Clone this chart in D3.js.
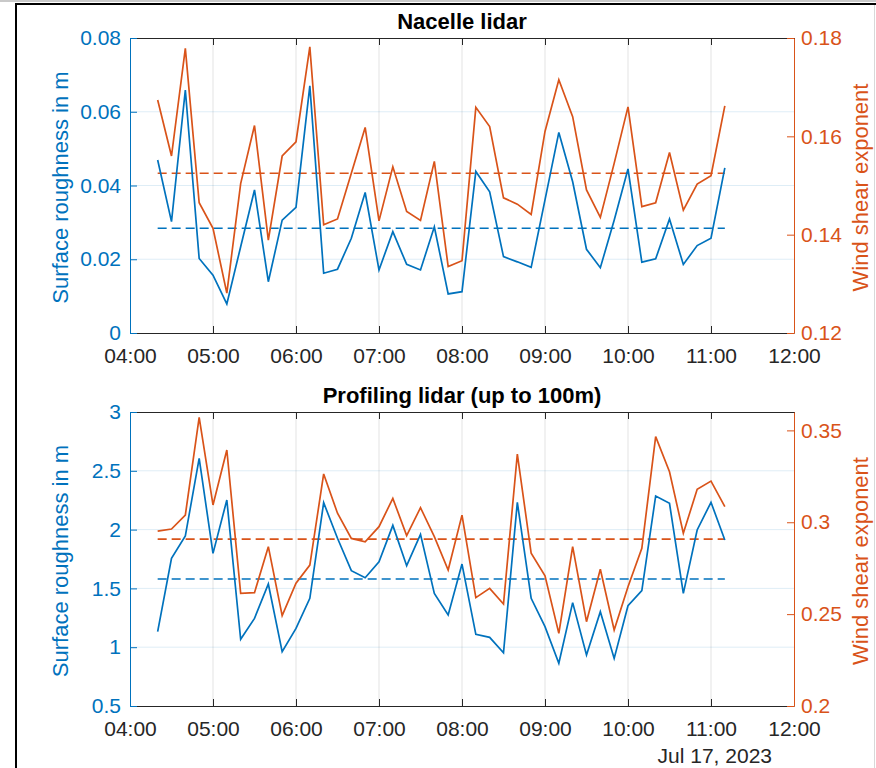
<!DOCTYPE html>
<html>
<head>
<meta charset="utf-8">
<script src="https://cdn.jsdelivr.net/npm/d3@7"></script>
<style>
  html, body { margin: 0; padding: 0; background: #fff; }
  svg { display: block; }
  text { font-family: "Liberation Sans", Arial, Helvetica, sans-serif; }
</style>
</head>
<body>
<svg id="fig" width="876" height="768"></svg>
<script>
// Sample times (10-minute records, 17 Jul 2023)
const times = [
  "04:20","04:30","04:40","04:50","05:00","05:10","05:20","05:30","05:40","05:50",
  "06:00","06:10","06:20","06:30","06:40","06:50","07:00","07:10","07:20","07:30",
  "07:40","07:50","08:00","08:10","08:20","08:30","08:40","08:50","09:00","09:10",
  "09:20","09:30","09:40","09:50","10:00","10:10","10:20","10:30","10:40","10:50",
  "11:00","11:10"
];

// Nacelle lidar
const nacelleRoughness = [
  0.0469,0.0302,0.0659,0.0202,0.0157,0.0079,0.0234,0.0388,0.0139,0.0306,
  0.0341,0.0670,0.0162,0.0173,0.0257,0.0381,0.0171,0.0275,0.0186,0.0171,
  0.0288,0.0106,0.0112,0.0438,0.0383,0.0207,0.0193,0.0178,0.0361,0.0544,
  0.0410,0.0227,0.0177,0.0306,0.0445,0.0192,0.0201,0.0309,0.0186,0.0237,
  0.0257,0.0448
];
const nacelleShear = [
  0.1674,0.1560,0.1779,0.1465,0.1413,0.1281,0.1504,0.1622,0.1389,0.1560,
  0.1589,0.1782,0.1420,0.1432,0.1525,0.1618,0.1428,0.1538,0.1447,0.1429,
  0.1549,0.1335,0.1347,0.1659,0.1620,0.1475,0.1462,0.1441,0.1610,0.1715,
  0.1640,0.1491,0.1435,0.1545,0.1660,0.1457,0.1465,0.1567,0.1450,0.1503,
  0.1520,0.1662
];
const nacelleRoughnessMean = 0.0284;
const nacelleShearMean = 0.1525;

// Profiling lidar (up to 100 m)
const profilingRoughness = [
  1.132,1.756,1.946,2.606,1.798,2.252,1.067,1.245,1.537,0.962,
  1.160,1.416,2.229,1.926,1.651,1.591,1.727,2.036,1.693,1.960,
  1.458,1.274,1.707,1.109,1.084,0.953,2.232,1.416,1.175,0.863,
  1.379,0.934,1.302,0.905,1.353,1.481,2.286,2.223,1.458,1.997,
  2.232,1.912
];
const profilingShear = [
  0.2952,0.2963,0.3039,0.3571,0.3094,0.3393,0.2613,0.2617,0.2867,0.2492,
  0.2668,0.2767,0.3263,0.3049,0.2912,0.2894,0.2976,0.3130,0.2927,0.3079,
  0.2922,0.2740,0.3039,0.2590,0.2640,0.2555,0.3371,0.2831,0.2709,0.2395,
  0.2867,0.2459,0.2744,0.2414,0.2649,0.2858,0.3466,0.3275,0.2940,0.3179,
  0.3224,0.3085
];
const profilingRoughnessMean = 1.58;
const profilingShearMean = 0.2908;

// Axis ranges and tick values
const xStartLabel = "04:00", xEndLabel = "12:00";
const nacelleLeftTicks = [0, 0.02, 0.04, 0.06, 0.08];
const nacelleRightTicks = [0.12, 0.14, 0.16, 0.18];
const profilingLeftTicks = [0.5, 1, 1.5, 2, 2.5, 3];
const profilingRightTicks = [0.2, 0.25, 0.3, 0.35];
const profilingRightMax = 0.36;
const dateLabel = "Jul 17, 2023";

const BLUE = "#0072BD", ORANGE = "#D95319", DARK = "#262626";
const TICK_FS = 21, LABEL_FS = 22, TITLE_FS = 22;

const parseHM = s => { const [h, m] = s.split(":").map(Number); return new Date(2023, 6, 17, h, m); };
const dates = times.map(parseHM);

const svg = d3.select("#fig");

// figure frame
svg.append("rect").attr("x", 0).attr("y", 0).attr("width", 876).attr("height", 2).attr("fill", "#c9c9c9");
svg.append("rect").attr("x", 15).attr("y", 3).attr("width", 861).attr("height", 2).attr("fill", "#000");
svg.append("rect").attr("x", 15).attr("y", 3).attr("width", 2).attr("height", 765).attr("fill", "#000");
svg.append("rect").attr("x", 874).attr("y", 5).attr("width", 1).attr("height", 763).attr("fill", "#d8d8d8");

function panel(opts) {
  const { top, bottom, left, right, title, leftVals, rightVals, leftMean, rightMean,
          leftTicks, rightTicks, leftDomain, rightDomain, leftFmt, rightFmt } = opts;
  const g = svg.append("g");
  const x = d3.scaleTime().domain([parseHM(xStartLabel), parseHM(xEndLabel)]).range([left, right]);
  const yL = d3.scaleLinear().domain(leftDomain).range([bottom, top]);
  const yR = d3.scaleLinear().domain(rightDomain).range([bottom, top]);
  const xTicks = d3.timeHour.range(parseHM(xStartLabel), d3.timeMinute.offset(parseHM(xEndLabel), 1));
  const tickLen = 7;

  // grid
  g.append("g").selectAll("line").data(xTicks.slice(1, -1)).join("line")
    .attr("x1", d => x(d)).attr("x2", d => x(d)).attr("y1", top).attr("y2", bottom)
    .attr("stroke", DARK).attr("stroke-opacity", 0.13).attr("stroke-width", 1);
  g.append("g").selectAll("line").data(leftTicks.slice(1, -1)).join("line")
    .attr("x1", left).attr("x2", right).attr("y1", d => yL(d)).attr("y2", d => yL(d))
    .attr("stroke", BLUE).attr("stroke-opacity", 0.13).attr("stroke-width", 1);

  // mean lines
  g.append("line").attr("x1", x(dates[0])).attr("x2", x(dates[dates.length - 1]))
    .attr("y1", yL(leftMean)).attr("y2", yL(leftMean))
    .attr("stroke", BLUE).attr("stroke-width", 1.6).attr("stroke-dasharray", "9,5");
  g.append("line").attr("x1", x(dates[0])).attr("x2", x(dates[dates.length - 1]))
    .attr("y1", yR(rightMean)).attr("y2", yR(rightMean))
    .attr("stroke", ORANGE).attr("stroke-width", 1.6).attr("stroke-dasharray", "9,5");

  // series
  const lineL = d3.line().x((d, i) => x(dates[i])).y(d => yL(d));
  const lineR = d3.line().x((d, i) => x(dates[i])).y(d => yR(d));
  g.append("path").datum(rightVals).attr("d", lineR).attr("fill", "none")
    .attr("stroke", ORANGE).attr("stroke-width", 1.7).attr("stroke-linejoin", "miter");
  g.append("path").datum(leftVals).attr("d", lineL).attr("fill", "none")
    .attr("stroke", BLUE).attr("stroke-width", 1.7).attr("stroke-linejoin", "miter");

  // x axes (bottom with labels, top ticks only)
  const xb = g.append("g").attr("transform", `translate(0,${bottom})`)
    .call(d3.axisBottom(x).tickValues(xTicks).tickFormat(d3.timeFormat("%H:%M")).tickSizeInner(-tickLen).tickSizeOuter(0).tickPadding(15));
  xb.select(".domain").attr("stroke", DARK).attr("stroke-width", 1);
  xb.selectAll(".tick line").attr("stroke", DARK);
  xb.selectAll(".tick text").attr("fill", DARK).attr("font-size", TICK_FS).attr("font-family", null);
  const xt = g.append("g").attr("transform", `translate(0,${top})`)
    .call(d3.axisTop(x).tickValues(xTicks).tickFormat("").tickSizeInner(-tickLen).tickSizeOuter(0));
  xt.select(".domain").attr("stroke", DARK).attr("stroke-width", 1);
  xt.selectAll(".tick line").attr("stroke", DARK);

  // left axis
  const al = g.append("g").attr("transform", `translate(${left},0)`)
    .call(d3.axisLeft(yL).tickValues(leftTicks).tickFormat(leftFmt).tickSizeInner(-tickLen).tickSizeOuter(0).tickPadding(9));
  al.select(".domain").attr("stroke", BLUE).attr("stroke-width", 1);
  al.selectAll(".tick line").attr("stroke", BLUE);
  al.selectAll(".tick text").attr("fill", BLUE).attr("font-size", TICK_FS).attr("font-family", null);

  // right axis
  const ar = g.append("g").attr("transform", `translate(${right},0)`)
    .call(d3.axisRight(yR).tickValues(rightTicks).tickFormat(rightFmt).tickSizeInner(-tickLen).tickSizeOuter(0).tickPadding(7));
  ar.select(".domain").attr("stroke", ORANGE).attr("stroke-width", 1);
  ar.selectAll(".tick line").attr("stroke", ORANGE);
  ar.selectAll(".tick text").attr("fill", ORANGE).attr("font-size", TICK_FS).attr("font-family", null);

  // labels
  const midY = (top + bottom) / 2 + 2;
  g.append("text").attr("transform", `translate(68,${midY}) rotate(-90)`)
    .attr("text-anchor", "middle").attr("font-size", LABEL_FS).attr("fill", BLUE)
    .text("Surface roughness in m");
  g.append("text").attr("transform", `translate(868,${midY}) rotate(-90)`)
    .attr("text-anchor", "middle").attr("font-size", LABEL_FS).attr("fill", ORANGE)
    .text("Wind shear exponent");
  g.append("text").attr("x", (left + right) / 2).attr("y", top - 9)
    .attr("text-anchor", "middle").attr("font-size", TITLE_FS).attr("font-weight", "bold").attr("fill", "#000")
    .text(title);
}

const fmtTrim = d => d3.format("")(d);

panel({
  top: 38, bottom: 333, left: 130, right: 794, title: "Nacelle lidar",
  leftVals: nacelleRoughness, rightVals: nacelleShear,
  leftMean: nacelleRoughnessMean, rightMean: nacelleShearMean,
  leftTicks: nacelleLeftTicks, rightTicks: nacelleRightTicks,
  leftDomain: [nacelleLeftTicks[0], nacelleLeftTicks[nacelleLeftTicks.length - 1]],
  rightDomain: [nacelleRightTicks[0], nacelleRightTicks[nacelleRightTicks.length - 1]],
  leftFmt: d => d === 0 ? "0" : d3.format(".2f")(d),
  rightFmt: d3.format(".2f")
});

panel({
  top: 412, bottom: 706, left: 130, right: 794, title: "Profiling lidar (up to 100m)",
  leftVals: profilingRoughness, rightVals: profilingShear,
  leftMean: profilingRoughnessMean, rightMean: profilingShearMean,
  leftTicks: profilingLeftTicks, rightTicks: profilingRightTicks,
  leftDomain: [profilingLeftTicks[0], profilingLeftTicks[profilingLeftTicks.length - 1]],
  rightDomain: [profilingRightTicks[0], profilingRightMax],
  leftFmt: fmtTrim,
  rightFmt: fmtTrim
});

svg.append("text").attr("x", 772).attr("y", 763).attr("text-anchor", "end")
  .attr("font-size", TICK_FS).attr("fill", DARK).text(dateLabel);
</script>
</body>
</html>
